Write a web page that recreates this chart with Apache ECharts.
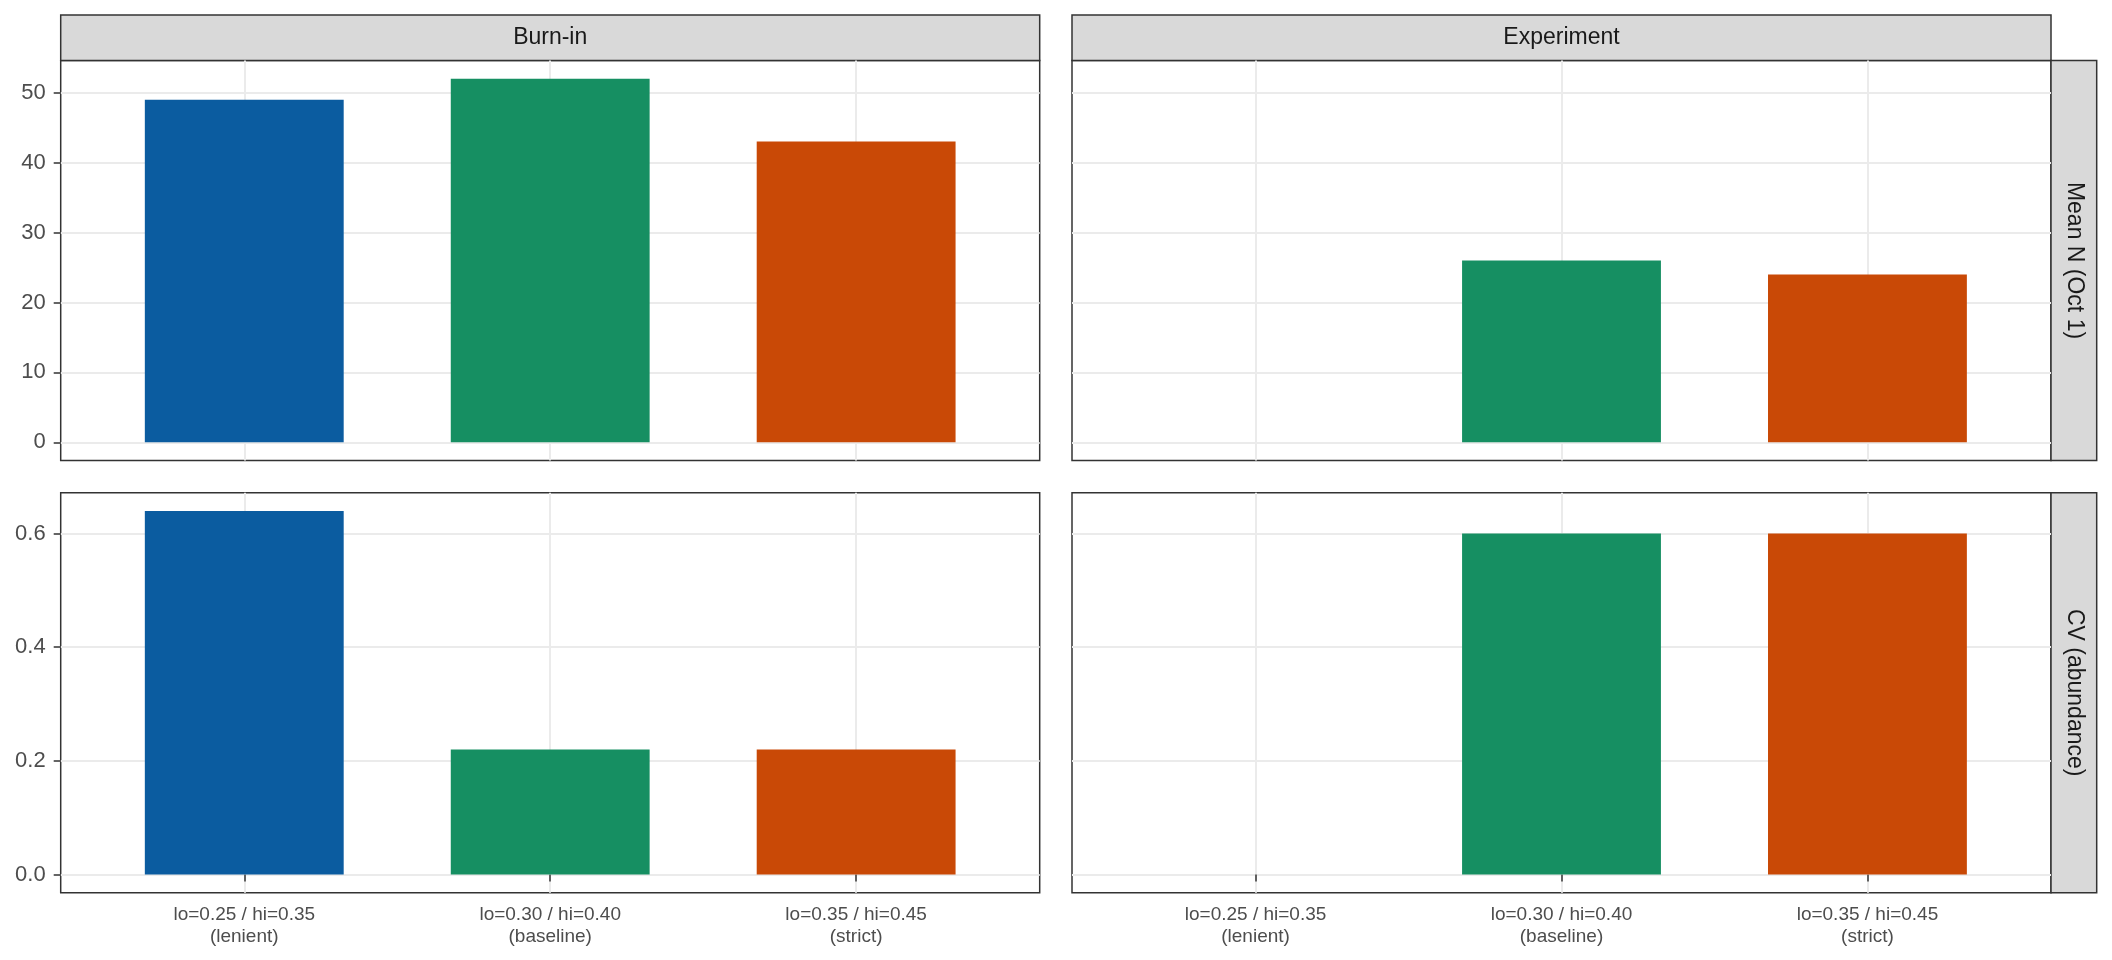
<!DOCTYPE html>
<html>
<head>
<meta charset="utf-8">
<title>Burn-in vs Experiment</title>
<script src="https://cdn.jsdelivr.net/npm/echarts@6/dist/echarts.min.js"></script>
<style>
  html, body { margin: 0; padding: 0; background: #fff; }
  #chart { width: 2112px; height: 960px; }
</style>
</head>
<body>
<div id="chart"></div>
<script>
// facet labels
const phases = ["Burn-in", "Experiment"];
const metrics = ["Mean N (Oct 1)", "CV (abundance)"];

// x categories (threshold settings)
const categories = [
  "lo=0.25 / hi=0.35\n(lenient)",
  "lo=0.30 / hi=0.40\n(baseline)",
  "lo=0.35 / hi=0.45\n(strict)"
];

// values, one per category (null = no bar)
const meanNBurnIn = [49, 52, 43];
const meanNExperiment = [null, 26, 24];
const cvBurnIn = [0.64, 0.22, 0.22];
const cvExperiment = [null, 0.60, 0.60];

// y tick labels
const meanNTicks = [0, 10, 20, 30, 40, 50];
const cvTicks = [0, 0.2, 0.4, 0.6];

const palette = ["#0B5CA0", "#168F62", "#C94906"];

const FONT = "'Liberation Sans', Arial, sans-serif";

// panel layout (px)
const colLeft = [60.7, 1072];
const panelW = 979;
const rowTop = [60.5, 492.7];
const panelH = 400;
const stripH = 45.5;
const stripW = 45.7;

// ggplot style ranges: 5% padding on continuous, 0.6 on discrete
function padRange(vals) {
  const v = vals.filter(d => d != null);
  const lo = Math.min(0, ...v), hi = Math.max(...v);
  const pad = (hi - lo) * 0.05;
  return [lo - pad, hi + pad];
}
const meanRange = padRange(meanNBurnIn.concat(meanNExperiment));
const cvRange = padRange(cvBurnIn.concat(cvExperiment));
const xMin = 0.4, xMax = categories.length + 0.6;
const barW = 0.65 * panelW / (xMax - xMin);

const xPositions = categories.map((c, i) => i + 1);

const panels = [
  { row: 0, col: 0, values: meanNBurnIn },
  { row: 0, col: 1, values: meanNExperiment },
  { row: 1, col: 0, values: cvBurnIn },
  { row: 1, col: 1, values: cvExperiment }
];

const grid = [], xAxis = [], yAxis = [], series = [];

panels.forEach((p, k) => {
  grid.push({
    left: colLeft[p.col], top: rowTop[p.row],
    width: panelW, height: panelH,
    show: true, backgroundColor: "#fff",
    borderColor: "#333333", borderWidth: 1.5
  });

  const bottomRow = p.row === 1;
  xAxis.push({
    type: "value", gridIndex: k, min: xMin, max: xMax,
    axisLine: { show: false },
    axisTick: {
      show: bottomRow, customValues: xPositions, length: 7,
      lineStyle: { color: "#333333", width: 1.5 }
    },
    axisLabel: {
      show: bottomRow, customValues: xPositions, margin: 11,
      fontFamily: FONT, fontSize: 19, lineHeight: 22, color: "#4D4D4D",
      formatter: v => categories[Math.round(v) - 1] || ""
    },
    splitLine: { show: true, lineStyle: { color: "#EBEBEB", width: 2 } }
  });

  const isMean = p.row === 0;
  const ticks = isMean ? meanNTicks : cvTicks;
  const range = isMean ? meanRange : cvRange;
  const firstCol = p.col === 0;
  yAxis.push({
    type: "value", gridIndex: k, min: range[0], max: range[1],
    axisLine: { show: false },
    axisTick: {
      show: firstCol, customValues: ticks, length: 7,
      lineStyle: { color: "#333333", width: 1.5 }
    },
    axisLabel: {
      show: firstCol, customValues: ticks, margin: 15,
      fontFamily: FONT, fontSize: 22, color: "#4D4D4D",
      formatter: v => isMean ? String(Math.round(v)) : v.toFixed(1)
    },
    splitLine: { show: true, lineStyle: { color: "#EBEBEB", width: 2 } }
  });

  series.push({
    type: "bar", xAxisIndex: k, yAxisIndex: k,
    barWidth: barW, silent: true,
    data: p.values
      .map((v, i) => v == null ? null : { value: [xPositions[i], v], itemStyle: { color: palette[i] } })
      .filter(Boolean)
  });
});

// facet strips
const graphic = [];
phases.forEach((name, c) => {
  graphic.push({
    type: "rect", silent: true,
    shape: { x: colLeft[c], y: rowTop[0] - stripH, width: panelW, height: stripH },
    style: { fill: "#D9D9D9", stroke: "#333333", lineWidth: 1.5 }
  });
  graphic.push({
    type: "text", silent: true,
    x: colLeft[c] + panelW / 2, y: rowTop[0] - stripH / 2,
    style: {
      text: name, fill: "#1A1A1A", font: "23px " + FONT,
      align: "center", verticalAlign: "middle"
    }
  });
});
metrics.forEach((name, r) => {
  const x0 = colLeft[1] + panelW;
  graphic.push({
    type: "rect", silent: true,
    shape: { x: x0, y: rowTop[r], width: stripW, height: panelH },
    style: { fill: "#D9D9D9", stroke: "#333333", lineWidth: 1.5 }
  });
  graphic.push({
    type: "text", silent: true,
    x: x0 + stripW / 2, y: rowTop[r] + panelH / 2,
    rotation: -Math.PI / 2,
    style: {
      text: name, fill: "#1A1A1A", font: "23px " + FONT,
      align: "center", verticalAlign: "middle"
    }
  });
});

const chart = echarts.init(document.getElementById("chart"), null, { renderer: "canvas" });
chart.setOption({
  animation: false,
  backgroundColor: "#fff",
  textStyle: { fontFamily: FONT },
  grid, xAxis, yAxis, series, graphic
});
</script>
</body>
</html>
